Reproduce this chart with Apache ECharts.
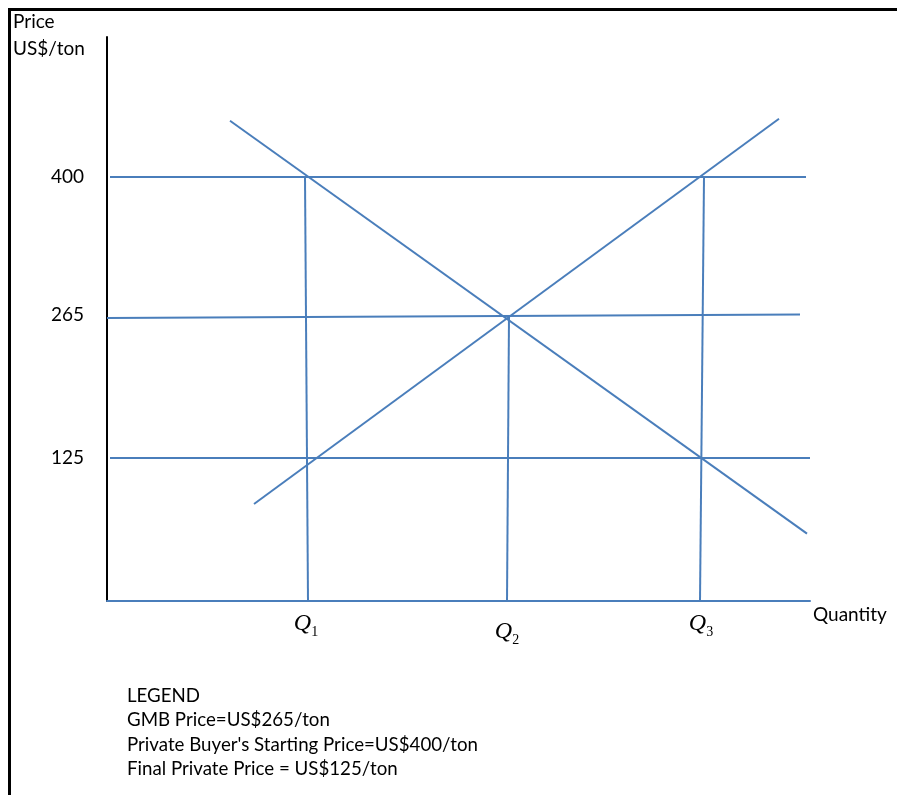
<!DOCTYPE html>
<html>
<head>
<meta charset="utf-8">
<script src="https://cdn.jsdelivr.net/npm/echarts@6/dist/echarts.min.js"></script>
<style>
  html, body { margin: 0; padding: 0; background: #ffffff; }
  #chart { width: 897px; height: 795px; }
</style>
</head>
<body>
<div id="chart"></div>
<script>
// ---- data ----
const priceTicks = [125, 265, 400];
const quantityTicks = [199, 400, 594];
const quantityLabels = ['Q1', 'Q2', 'Q3'];
const line400 = [[3, 400], [699, 400]];
const line265 = [[0, 262], [693, 265.5]];
const line125 = [[3, 125], [703, 125]];
const demandLine = [[123, 455], [700, 51]];
const supplyLine = [[147, 80], [672, 457]];
const q1Line = [[198, 400], [201, -15]];
const q2Line = [[402, 264], [400, -15]];
const q3Line = [[597, 400], [593, -15]];
const legendLines = [
  'LEGEND',
  'GMB Price=US$265/ton',
  "Private Buyer's Starting Price=US$400/ton",
  'Final Private Price = US$125/ton'
];

const BLUE = '#4a7ebb';
const FONT = 'Lato';

const segs = [line400, line265, line125, demandLine, supplyLine, q1Line, q2Line, q3Line];
const series = segs.map(d => ({
  type: 'line',
  data: d,
  symbol: 'none',
  silent: true,
  lineStyle: { color: BLUE, width: 2 },
  animation: false
}));

const chart = echarts.init(document.getElementById('chart'), null, { renderer: 'canvas' });

const legendGraphics = legendLines.map((t, i) => ({
  type: 'text',
  left: 127,
  top: 686 + i * 24.5,
  style: { text: t, fill: '#000', font: '18.7px ' + FONT }
}));

chart.setOption({
  animation: false,
  backgroundColor: '#ffffff',
  grid: { left: 107, right: 87, top: 37, bottom: 194, containLabel: false },
  xAxis: {
    type: 'value',
    min: 0,
    max: 703,
    splitLine: { show: false },
    axisTick: { show: false },
    axisLine: { show: true, onZero: false, lineStyle: { color: BLUE, width: 2 } },
    axisLabel: {
      customValues: quantityTicks,
      margin: 11,
      formatter: function (v) {
        const i = quantityTicks.indexOf(v);
        const lab = quantityLabels[i] || '';
        const sub = lab.slice(1);
        if (i === 1) return '{q2|Q}{s2|' + sub + '}';
        return '{q|Q}{s|' + sub + '}';
      },
      rich: {
        q: { fontFamily: 'Liberation Serif', fontStyle: 'italic', fontSize: 24, color: '#000', verticalAlign: 'bottom' },
        s: { fontFamily: 'Liberation Serif', fontSize: 14, color: '#000', verticalAlign: 'bottom', padding: [0, 0, -3, 0] },
        q2: { fontFamily: 'Liberation Serif', fontStyle: 'italic', fontSize: 24, color: '#000', verticalAlign: 'bottom', padding: [8, 0, 0, 0] },
        s2: { fontFamily: 'Liberation Serif', fontSize: 14, color: '#000', verticalAlign: 'bottom', padding: [8, 0, -3, 0] }
      }
    },
    name: 'Quantity',
    nameLocation: 'end',
    nameGap: 3,
    nameTextStyle: { fontFamily: FONT, fontSize: 19, color: '#000', verticalAlign: 'top', padding: [4, 0, 0, 0] }
  },
  yAxis: {
    type: 'value',
    min: -15,
    max: 537,
    splitLine: { show: false },
    axisTick: { show: false },
    axisLine: { show: true, onZero: false, lineStyle: { color: '#000', width: 2 } },
    axisLabel: {
      customValues: priceTicks,
      margin: 23,
      fontFamily: FONT,
      fontSize: 19,
      color: '#000'
    }
  },
  series: series,
  graphic: [
    { type: 'line', shape: { x1: 9.5, y1: 8, x2: 9.5, y2: 795 }, style: { stroke: '#000', lineWidth: 3 }, silent: true },
    { type: 'line', shape: { x1: 8, y1: 9.5, x2: 897, y2: 9.5 }, style: { stroke: '#000', lineWidth: 3 }, silent: true },
    { type: 'text', left: 13, top: 12, style: { text: 'Price', fill: '#000', font: '19px ' + FONT } },
    { type: 'text', left: 13, top: 39, style: { text: 'US$/ton', fill: '#000', font: '19px ' + FONT } }
  ].concat(legendGraphics)
});
</script>
</body>
</html>
